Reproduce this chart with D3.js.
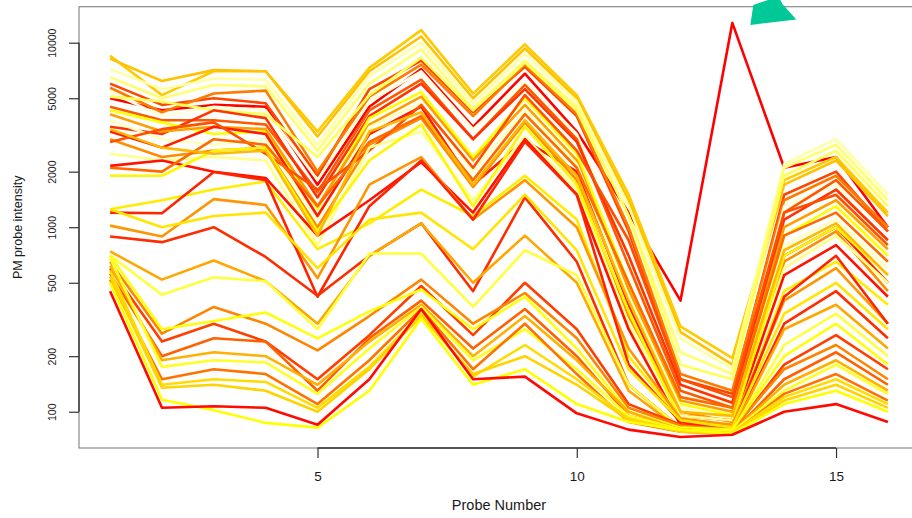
<!DOCTYPE html>
<html>
<head>
<meta charset="utf-8">
<script src="https://cdn.jsdelivr.net/npm/d3@7/dist/d3.min.js"></script>
<style>
  body { margin: 0; background: #fff; }
  text { font-family: "Liberation Sans", Arial, sans-serif; fill: #1a1a1a; }
</style>
</head>
<body>
<svg id="chart" width="912" height="518"></svg>
<script>

// probe positions along the x axis
var probes = [1, 2, 3, 4, 5, 6, 7, 8, 9, 10, 11, 12, 13, 14, 15, 16];

var xTicks = [5, 10, 15];
var yTicks = [100, 200, 500, 1000, 2000, 5000, 10000];

// PM intensities, one row per array
var pmIntensity = [
  [5000, 4300, 4600, 4500, 1700, 4500, 7200, 3500, 6800, 3300, 1200, 400, 12800, 2100, 2400, 1000],
  [8500, 5200, 7000, 7000, 3300, 7300, 11700, 5300, 9800, 5200, 1500, 290, 195, 1800, 2400, 1200],
  [8200, 6200, 7100, 7000, 3100, 7000, 10800, 5000, 9300, 5000, 1400, 270, 180, 1700, 2300, 1150],
  [7200, 5600, 6400, 6300, 2800, 6600, 10000, 4700, 8700, 4800, 1300, 250, 170, 2200, 3000, 1500],
  [6500, 5000, 5900, 5800, 2600, 6000, 9200, 4400, 8000, 4500, 1150, 210, 160, 2100, 2800, 1400],
  [6000, 4600, 5000, 4700, 1900, 5600, 8000, 4200, 7400, 4000, 950, 150, 125, 1500, 2000, 950],
  [5700, 4200, 5300, 5500, 2000, 5100, 7600, 4000, 7600, 4100, 1000, 160, 130, 1400, 1900, 1000],
  [5400, 4000, 4500, 4300, 1800, 4800, 7000, 3400, 6100, 3200, 700, 120, 110, 1300, 1700, 800],
  [5100, 4800, 4300, 4100, 2400, 5200, 8300, 4300, 7800, 4300, 1150, 180, 150, 1900, 2600, 1300],
  [4500, 3800, 3800, 3600, 1550, 4300, 6300, 3000, 5900, 3000, 620, 130, 105, 1200, 1800, 950],
  [3500, 3200, 4300, 3900, 1450, 4000, 6000, 3000, 5600, 2900, 700, 140, 112, 1100, 1600, 850],
  [4300, 3700, 3200, 3300, 1250, 3900, 5400, 2400, 5000, 2500, 500, 110, 96, 900, 1300, 700],
  [4100, 3300, 3500, 3400, 1300, 3600, 5100, 2300, 4600, 2300, 460, 115, 100, 1000, 1400, 760],
  [3800, 3000, 2800, 3000, 1100, 3500, 4700, 2000, 4300, 2200, 420, 105, 92, 800, 1100, 600],
  [3300, 2700, 3500, 3200, 1150, 3200, 4500, 1700, 2950, 2000, 380, 95, 90, 700, 1000, 500],
  [3000, 2400, 2600, 2700, 1000, 2800, 3900, 1650, 3700, 1800, 330, 100, 88, 650, 950, 450],
  [2900, 3400, 3700, 2500, 1600, 2600, 4600, 2100, 5200, 2600, 850, 150, 120, 1200, 1500, 800],
  [2500, 2300, 2400, 2300, 800, 2700, 3300, 1400, 3100, 1600, 300, 95, 90, 600, 900, 500],
  [2150, 2300, 2000, 1850, 900, 1400, 2250, 1200, 3000, 1500, 280, 85, 85, 550, 800, 420],
  [1900, 1900, 2600, 2700, 950, 2300, 3600, 1300, 3500, 1700, 350, 90, 85, 700, 1000, 550],
  [2100, 2000, 3000, 2800, 1300, 2900, 4000, 1800, 4100, 2100, 500, 120, 105, 900, 1200, 650],
  [3400, 2700, 2500, 2600, 900, 3300, 4200, 1700, 3800, 1900, 400, 100, 95, 750, 1050, 550],
  [1250, 1400, 1600, 1770, 760, 1050, 1600, 1150, 1900, 1100, 200, 90, 82, 450, 650, 380],
  [1020, 890, 1420, 1320, 530, 1700, 2400, 1100, 1800, 1000, 220, 92, 85, 400, 600, 300],
  [1200, 1190, 1990, 1800, 420, 1300, 2300, 1100, 2900, 1500, 180, 88, 80, 420, 700, 300],
  [890, 830, 1000, 690, 425, 700, 1050, 450, 1450, 650, 140, 82, 78, 300, 450, 250],
  [1250, 1000, 1150, 1200, 600, 1100, 1200, 760, 1500, 750, 170, 90, 82, 340, 500, 280],
  [740, 520, 660, 510, 300, 700, 1050, 500, 900, 500, 130, 80, 78, 280, 380, 220],
  [705, 430, 535, 510, 280, 720, 720, 370, 750, 550, 140, 82, 78, 230, 340, 200],
  [600, 240, 300, 240, 150, 260, 480, 260, 500, 280, 110, 85, 78, 180, 260, 170],
  [650, 265, 370, 300, 215, 330, 520, 300, 440, 250, 105, 84, 80, 170, 230, 150],
  [700, 280, 310, 345, 250, 350, 460, 280, 420, 220, 100, 82, 80, 200, 300, 180],
  [560, 200, 250, 240, 130, 250, 400, 220, 360, 200, 95, 80, 77, 150, 210, 140],
  [620, 190, 210, 200, 140, 240, 380, 200, 330, 190, 100, 80, 78, 140, 190, 130],
  [680, 175, 190, 185, 125, 220, 370, 190, 280, 170, 95, 80, 78, 130, 180, 125],
  [520, 150, 170, 160, 110, 190, 360, 170, 300, 160, 88, 78, 76, 125, 160, 115],
  [580, 140, 150, 145, 105, 175, 340, 155, 230, 150, 92, 79, 77, 120, 150, 110],
  [540, 135, 140, 130, 100, 170, 330, 160, 200, 140, 90, 78, 76, 115, 140, 105],
  [500, 116, 102, 87, 82, 130, 320, 140, 170, 110, 88, 80, 76, 110, 130, 100],
  [450, 105, 107, 105, 85, 150, 360, 150, 155, 98, 80, 73, 75, 100, 110, 88]
];

// which heat colour each array got
var sampleColour = [0, 23, 22, 36, 34, 8, 14, 38, 33, 10, 6, 29, 18, 37, 3, 16, 9, 35, 2, 28, 12, 21,
  27, 17, 4, 5, 26, 19, 32,
  7, 15, 30, 11, 20, 31, 13, 25, 24, 29, 1];

// same idea as R's heat.colors(n)
function heatColors(n) {
  var j = Math.floor(n / 4), i = n - j;
  var cols = [];
  for (var k = 0; k < i; k++) {
    cols.push(d3.rgb(255, Math.round(255 * k / (i - 1)), 0).formatHex());
  }
  for (var k = 0; k < j; k++) {
    var s = (1 - 1 / (2 * j)) + (k / (j - 1)) * (1 / (2 * j) - (1 - 1 / (2 * j)));
    cols.push(d3.rgb(255, 255, Math.round(255 * (1 - s))).formatHex());
  }
  return cols;
}

var palette = heatColors(40);

var svg = d3.select("#chart");

var plotLeft = 79, plotRight = 919, plotTop = 6.7, plotBottom = 448;

var xScale = d3.scaleLinear().domain([0.4, 16.6]).range([plotLeft, plotRight]);
var yScale = d3.scaleLog().domain([63.6, 15670]).range([plotBottom, plotTop]);

// lines
var line = d3.line()
  .x(function(d, i) { return xScale(probes[i]); })
  .y(function(d) { return yScale(d); });

svg.append("g")
  .selectAll("path")
  .data(pmIntensity)
  .enter().append("path")
  .attr("d", line)
  .attr("fill", "none")
  .attr("stroke", function(d, i) { return palette[sampleColour[i]]; })
  .attr("stroke-width", 2.6)
  .attr("stroke-linejoin", "round");

// box
svg.append("rect")
  .attr("x", plotLeft)
  .attr("y", plotTop)
  .attr("width", plotRight - plotLeft)
  .attr("height", plotBottom - plotTop)
  .attr("fill", "none")
  .attr("stroke", "#8a8a8a")
  .attr("stroke-width", 1.2);

// y axis
var yAxis = svg.append("g")
  .attr("transform", "translate(" + plotLeft + ",0)")
  .call(d3.axisLeft(yScale)
    .tickValues(yTicks)
    .tickFormat(d3.format("d"))
    .tickSize(10)
    .tickSizeOuter(0));

yAxis.select(".domain").remove();
yAxis.append("line")
  .attr("y1", yScale(yTicks[0]))
  .attr("y2", yScale(yTicks[yTicks.length - 1]))
  .attr("stroke", "#333")
  .attr("stroke-width", 1.4);
yAxis.selectAll(".tick line").attr("stroke", "#333").attr("stroke-width", 1.2);
yAxis.selectAll(".tick text")
  .attr("transform", "rotate(-90)")
  .attr("x", 0)
  .attr("y", -23)
  .attr("dy", 0)
  .style("text-anchor", "middle")
  .style("font-size", "10.5px")
  .style("font-family", "'Liberation Sans', Arial, sans-serif")
  .attr("fill", "#1a1a1a");

// x axis
var xAxis = svg.append("g")
  .attr("transform", "translate(0," + plotBottom + ")")
  .call(d3.axisBottom(xScale)
    .tickValues(xTicks)
    .tickSize(10)
    .tickSizeOuter(0));

xAxis.select(".domain").remove();
xAxis.append("line")
  .attr("x1", xScale(xTicks[0]))
  .attr("x2", xScale(xTicks[xTicks.length - 1]))
  .attr("stroke", "#333")
  .attr("stroke-width", 1.4);
xAxis.selectAll(".tick line").attr("stroke", "#333").attr("stroke-width", 1.2);
xAxis.selectAll(".tick text")
  .attr("y", 28)
  .attr("dy", "0.35em")
  .style("font-size", "13.5px")
  .style("font-family", "'Liberation Sans', Arial, sans-serif")
  .attr("fill", "#1a1a1a");

// axis titles
svg.append("text")
  .attr("x", (plotLeft + plotRight) / 2)
  .attr("y", 510)
  .attr("text-anchor", "middle")
  .style("font-size", "14.5px")
  .text("Probe Number");

svg.append("text")
  .attr("transform", "rotate(-90)")
  .attr("x", -(plotTop + plotBottom) / 2)
  .attr("y", 22)
  .attr("text-anchor", "middle")
  .style("font-size", "12.5px")
  .text("PM probe intensity");

// green arrow pointing at the outlier
var tipX = xScale(13) + 18, tipY = yScale(12800) + 2;
var arrow = [[0, 0], [3, -20], [18, -25], [30, -25], [32, -21], [46, -5.5]];
svg.append("polygon")
  .attr("points", arrow.map(function(p) { return (tipX + p[0]) + "," + (tipY + p[1]); }).join(" "))
  .attr("fill", "#00c896");

</script>
</body>
</html>
